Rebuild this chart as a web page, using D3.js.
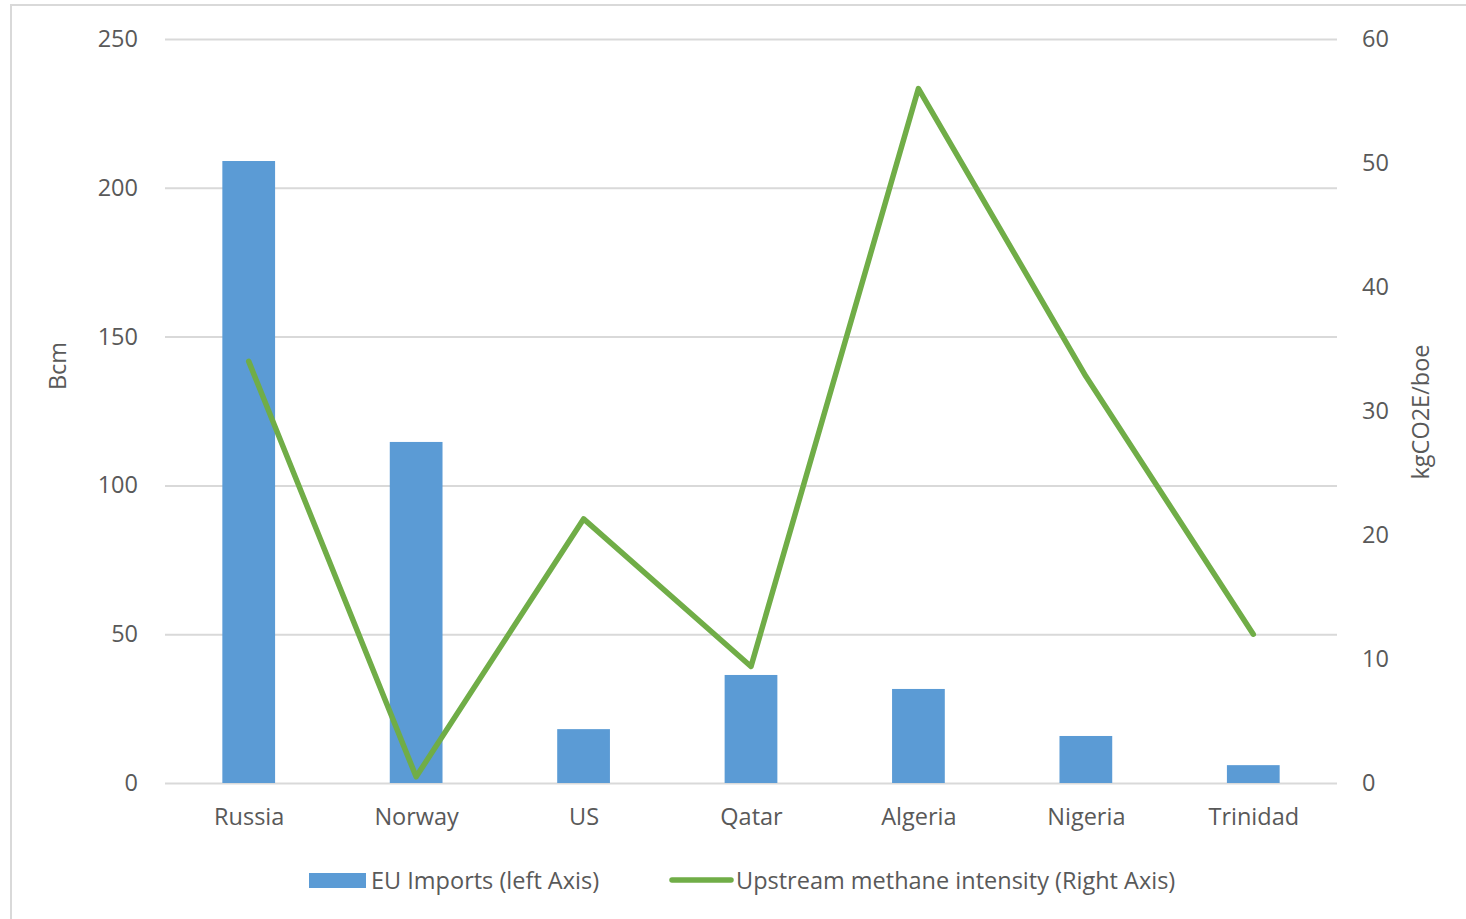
<!DOCTYPE html>
<html>
<head>
<meta charset="utf-8">
<script src="https://cdn.jsdelivr.net/npm/d3@7"></script>
<style>
	body { margin: 0; background: #fff; }
	text { font-family: "Open Sans", "Noto Sans", sans-serif; fill: #595959; }
</style>
</head>
<body>
<div id="chart"></div>
<script>
const countries = ["Russia", "Norway", "US", "Qatar", "Algeria", "Nigeria", "Trinidad"];
const euImports = [209, 114.6, 18.1, 36.3, 31.6, 15.8, 6.0];
const methaneIntensity = [34, 0.5, 21.3, 9.4, 56, 32.8, 12];
const leftTicks = [0, 50, 100, 150, 200, 250];
const rightTicks = [0, 10, 20, 30, 40, 50, 60];

const width = 1466,
	height = 919;
const plot = { left: 165, right: 1337, top: 39, bottom: 783 };
const fontSize = "23.5px";

const svg = d3
	.select("#chart")
	.append("svg")
	.attr("width", width)
	.attr("height", height);

//frame
svg
	.append("rect")
	.attr("x", 11)
	.attr("y", 5)
	.attr("width", width + 20)
	.attr("height", height + 20)
	.attr("fill", "none")
	.attr("stroke", "#d9d9d9")
	.attr("stroke-width", 2);

//scales
const x = d3
	.scaleBand()
	.domain(countries)
	.range([plot.left, plot.right])
	.paddingInner(0.685)
	.paddingOuter(0.3425);
const xCenter = d3.scalePoint().domain(countries).range([plot.left, plot.right]).padding(0.5);
const yLeft = d3.scaleLinear().domain([0, 250]).range([plot.bottom, plot.top]);
const yRight = d3.scaleLinear().domain([0, 60]).range([plot.bottom, plot.top]);

//gridlines
const grid = svg
	.append("g")
	.attr("transform", `translate(${plot.left},0)`)
	.call(
		d3
			.axisLeft(yLeft)
			.tickValues(leftTicks)
			.tickSize(-(plot.right - plot.left))
			.tickFormat("")
	);
grid.select(".domain").remove();
grid.selectAll("line").attr("stroke", "#d9d9d9").attr("stroke-width", 2);

//left axis labels
const leftAxis = svg
	.append("g")
	.attr("transform", `translate(${plot.left},0)`)
	.call(d3.axisLeft(yLeft).tickValues(leftTicks).tickSize(0).tickPadding(27));
leftAxis.select(".domain").remove();
leftAxis.selectAll("text").style("font-size", fontSize).attr("fill", "#595959");

//right axis labels
const rightAxis = svg
	.append("g")
	.attr("transform", `translate(${plot.right},0)`)
	.call(d3.axisRight(yRight).tickValues(rightTicks).tickSize(0).tickPadding(25));
rightAxis.select(".domain").remove();
rightAxis.selectAll("text").style("font-size", fontSize).attr("fill", "#595959");

//x axis labels
const xAxis = svg
	.append("g")
	.attr("transform", `translate(0,${plot.bottom})`)
	.call(d3.axisBottom(xCenter).tickSize(0).tickPadding(25));
xAxis.select(".domain").remove();
xAxis.selectAll("text").style("font-size", fontSize).attr("fill", "#595959");

//axis titles
svg
	.append("text")
	.attr("transform", `translate(66,366) rotate(-90)`)
	.attr("text-anchor", "middle")
	.style("font-size", fontSize)
	.text("Bcm");
svg
	.append("text")
	.attr("transform", `translate(1429,412) rotate(-90)`)
	.attr("text-anchor", "middle")
	.style("font-size", fontSize)
	.text("kgCO2E/boe");

//bars
svg
	.append("g")
	.selectAll("rect")
	.data(countries)
	.join("rect")
	.attr("x", (d) => x(d))
	.attr("width", x.bandwidth())
	.attr("y", (d, i) => yLeft(euImports[i]))
	.attr("height", (d, i) => plot.bottom - yLeft(euImports[i]))
	.attr("fill", "#5b9bd5");

//line
const line = d3
	.line()
	.x((d, i) => xCenter(countries[i]))
	.y((d) => yRight(d));
svg
	.append("path")
	.datum(methaneIntensity)
	.attr("d", line)
	.attr("fill", "none")
	.attr("stroke", "#70ad47")
	.attr("stroke-width", 5.5)
	.attr("stroke-linejoin", "round")
	.attr("stroke-linecap", "round");

//legend
const legend = svg.append("g");
legend
	.append("rect")
	.attr("x", 309)
	.attr("y", 873)
	.attr("width", 57)
	.attr("height", 15)
	.attr("fill", "#5b9bd5");
legend
	.append("text")
	.attr("x", 371)
	.attr("y", 889)
	.style("font-size", fontSize)
	.text("EU Imports (left Axis)");
legend
	.append("line")
	.attr("x1", 672)
	.attr("x2", 731)
	.attr("y1", 880)
	.attr("y2", 880)
	.attr("stroke", "#70ad47")
	.attr("stroke-width", 5.5)
	.attr("stroke-linecap", "round");
legend
	.append("text")
	.attr("x", 736)
	.attr("y", 889)
	.style("font-size", fontSize)
	.text("Upstream methane intensity (Right Axis)");
</script>
</body>
</html>
